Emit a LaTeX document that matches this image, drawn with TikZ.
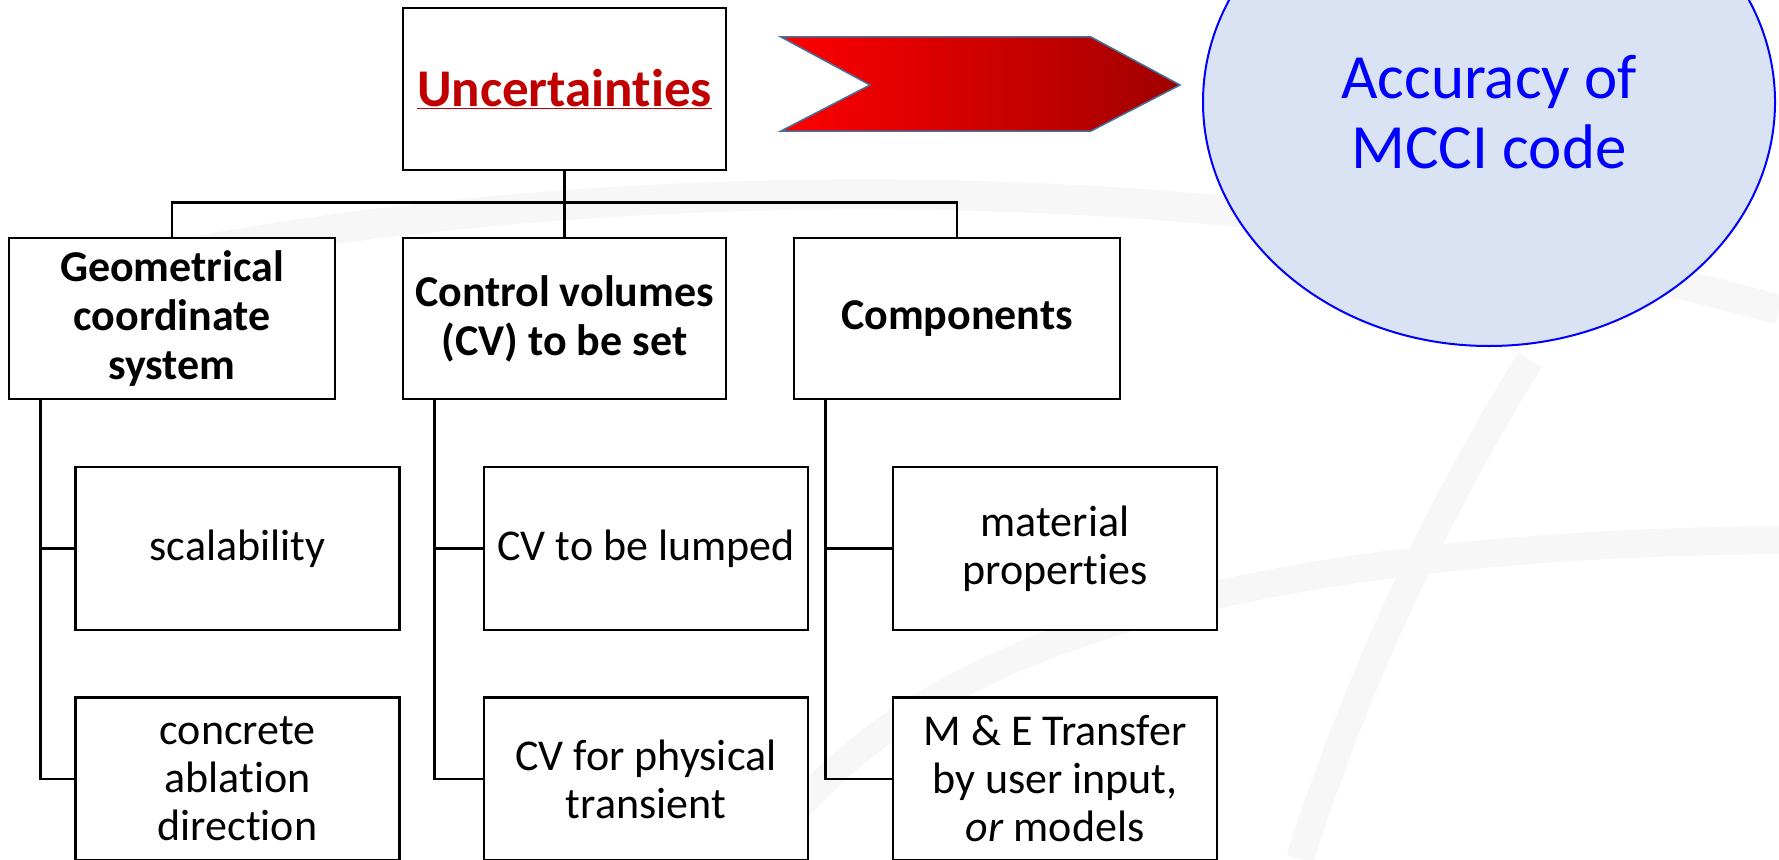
\documentclass[tikz,border=0pt]{standalone}
\usepackage{fontspec}
\setmainfont{Carlito}[Ligatures=NoCommon]
\usetikzlibrary{shapes.geometric,calc}
\definecolor{unctitle}{HTML}{C00000}
\definecolor{accfill}{HTML}{DAE3F3}
\definecolor{chevline}{HTML}{41719C}
\definecolor{chevdark}{HTML}{A00000}
\definecolor{swoosh}{HTML}{F7F7F7}

\tikzset{
  topbox/.style={draw, line width=2.6pt, fill=white, minimum width=323pt, minimum height=162pt, inner sep=2pt, align=center},
  catbox/.style={topbox, minimum width=326pt, minimum height=161pt, font=\fontsize{44}{49}\selectfont\bfseries},
  leafbox/.style={topbox, minimum width=324pt, minimum height=163pt, font=\fontsize{44}{48}\selectfont},
  tree/.style={line width=2.6pt},
}

\begin{document}
\begin{tikzpicture}[x=1pt,y=-1pt]
    \useasboundingbox (0,0) rectangle (1779,859);
    \clip (0,0) rectangle (1779,859);

    % faint background swooshes
    \draw[swoosh, line width=30pt] (150,260) .. controls (600,170) and (1250,160) .. (1779,310);
    \draw[swoosh, line width=28pt] (760,859) .. controls (900,640) and (1250,545) .. (1779,540);
    \draw[swoosh, line width=28pt] (1530,360) .. controls (1430,520) and (1350,700) .. (1300,859);

    % top box
    \node[topbox, font=\fontsize{53}{60}\selectfont\bfseries, text=unctitle] (unc) at (564.5,89) {\underline{Uncertainties}};

    % second level
    \node[catbox] (geo) at (172,318.5) {Geometrical\\coordinate\\system};
    \node[catbox, minimum width=323pt] (cv) at (564.5,318.5) {Control volumes\\(CV) to be set};
    \node[catbox] (comp) at (957,318.5) {Components};

    % third level
    \node[leafbox] (scal) at (237.5,548.5) {scalability};
    \node[leafbox] (abl) at (237.5,779) {concrete\\ablation\\direction};
    \node[leafbox] (lump) at (646,548.5) {CV to be lumped};
    \node[leafbox] (phys) at (646,779) {CV for physical\\transient};
    \node[leafbox] (mat) at (1055,548.5) {material\\properties};
    \node[leafbox] (mande) at (1055,779) {M \& E Transfer\\by user input,\\\textit{or} models};

    % tree lines
    \draw[tree] (unc.south) -- (cv.north);
    \draw[tree] (geo.north) -- ++(0,-34) -| (comp.north);
    \foreach \c/\a/\b in {geo/scal/abl, cv/lump/phys, comp/mat/mande} {
        \draw[tree] ([xshift=33pt]\c.south west) |- (\b.west);
        \draw[tree] ([xshift=33pt]\c.south west) |- (\a.west);
    };

    % red chevron
    \shadedraw[left color=red, middle color=red!92!black, right color=chevdark, draw=chevline, line width=1.5pt]
        (781,37) -- (1091,37) -- (1180,85) -- (1091,131) -- (781,131) -- (870,85) -- cycle;

    % result ellipse
    \node[ellipse, draw=blue, line width=2pt, fill=accfill, minimum width=572pt, minimum height=488pt, inner sep=0pt] (acc) at (1489,102) {};
    \node[font=\fontsize{63}{70}\selectfont, text=blue, align=center] (acctext) at ([yshift=-10pt]acc.center) {Accuracy of\\MCCI code};
\end{tikzpicture}
\end{document}
